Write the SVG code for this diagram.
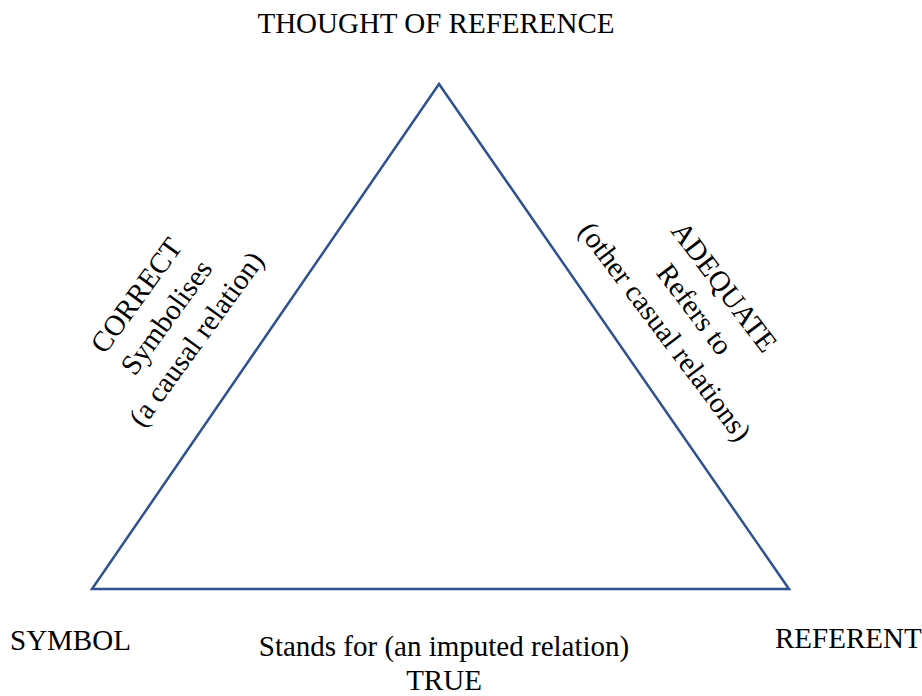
<svg xmlns="http://www.w3.org/2000/svg" width="922" height="696" viewBox="0 0 922 696">
<style>
.t{font-family:"Liberation Serif","Times New Roman",serif;font-size:29px;fill:#000;}
.m{text-anchor:middle;}
.edge{fill:none;stroke:#2F528F;stroke-width:2.5;stroke-linejoin:miter;}
</style>
<rect width="922" height="696" fill="#fff"/>
<g id="connectors">
<polygon class="edge" points="439,84 789,589 92,589"/>
</g>
<g id="thought"><text class="t m" x="436" y="33">THOUGHT OF REFERENCE</text></g>
<g id="symbol"><text class="t" x="10" y="650">SYMBOL</text></g>
<g id="referent"><text class="t" x="775" y="648">REFERENT</text></g>
<g id="stands-for">
<text class="t m" x="444" y="656">Stands for (an imputed relation)</text>
<text class="t m" x="444" y="690">TRUE</text>
</g>
<g id="symbolises" transform="translate(166,317) rotate(-54)">
<text class="t m" x="0" y="-27">CORRECT</text>
<text class="t m" x="0" y="10">Symbolises</text>
<text class="t m" x="0" y="47">(a causal relation)</text>
</g>
<g id="refers-to" transform="translate(695,309) rotate(53)">
<text class="t m" x="0" y="-27">ADEQUATE</text>
<text class="t m" x="0" y="10">Refers to</text>
<text class="t m" x="0" y="47">(other casual relations)</text>
</g>
</svg>
